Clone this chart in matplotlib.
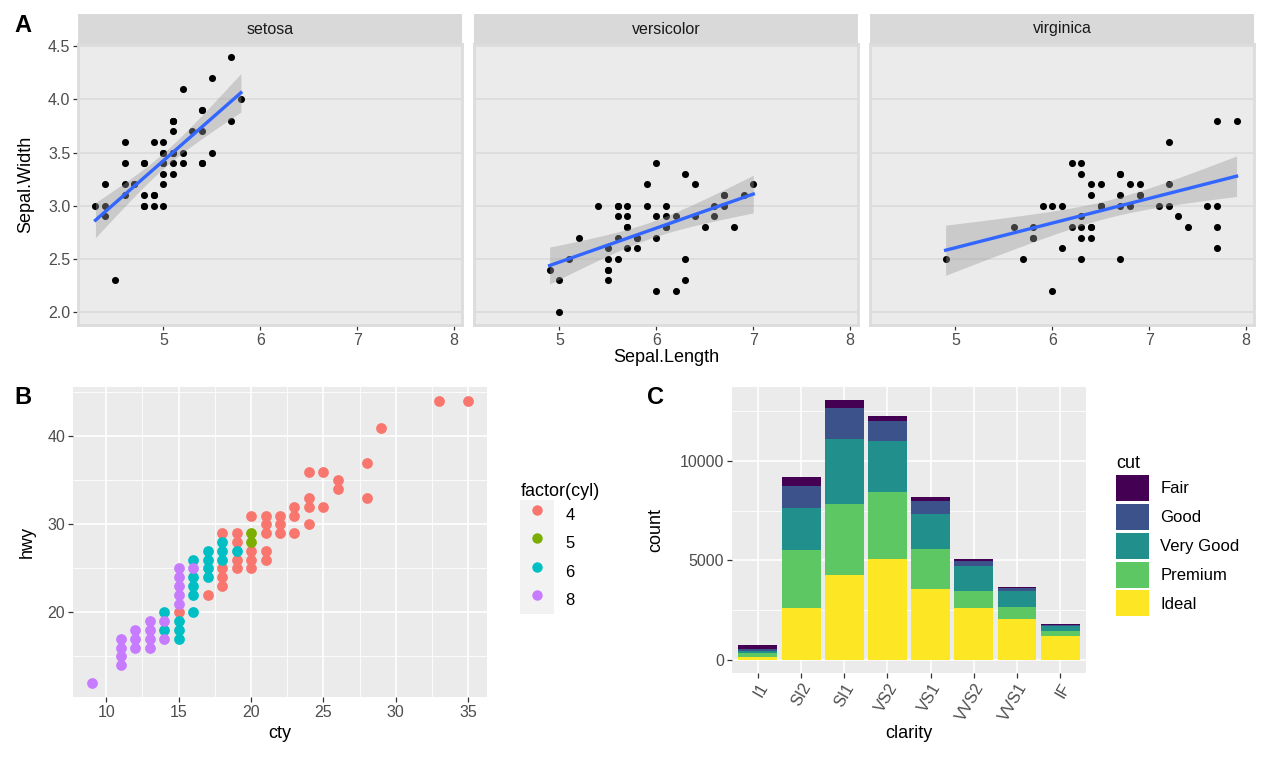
import matplotlib
matplotlib.use("Agg")
import matplotlib.pyplot as plt
from matplotlib.patches import Patch
from matplotlib.lines import Line2D
from matplotlib.legend_handler import HandlerTuple
import numpy as np

plt.rcParams['font.family'] = ['Liberation Sans', 'DejaVu Sans']

# ---- data: iris (Sepal.Length, Sepal.Width) ----
species = ["setosa", "versicolor", "virginica"]
setosa_len = [5.1, 4.9, 4.7, 4.6, 5.0, 5.4, 4.6, 5.0, 4.4, 4.9, 5.4, 4.8, 4.8, 4.3, 5.8, 5.7, 5.4,
              5.1, 5.7, 5.1, 5.4, 5.1, 4.6, 5.1, 4.8, 5.0, 5.0, 5.2, 5.2, 4.7, 4.8, 5.4, 5.2, 5.5,
              4.9, 5.0, 5.5, 4.9, 4.4, 5.1, 5.0, 4.5, 4.4, 5.0, 5.1, 4.8, 5.1, 4.6, 5.3, 5.0]
setosa_wid = [3.5, 3.0, 3.2, 3.1, 3.6, 3.9, 3.4, 3.4, 2.9, 3.1, 3.7, 3.4, 3.0, 3.0, 4.0, 4.4, 3.9,
              3.5, 3.8, 3.8, 3.4, 3.7, 3.6, 3.3, 3.4, 3.0, 3.4, 3.5, 3.4, 3.2, 3.1, 3.4, 4.1, 4.2,
              3.1, 3.2, 3.5, 3.6, 3.0, 3.4, 3.5, 2.3, 3.2, 3.5, 3.8, 3.0, 3.8, 3.2, 3.7, 3.3]
versi_len = [7.0, 6.4, 6.9, 5.5, 6.5, 5.7, 6.3, 4.9, 6.6, 5.2, 5.0, 5.9, 6.0, 6.1, 5.6, 6.7, 5.6,
             5.8, 6.2, 5.6, 5.9, 6.1, 6.3, 6.1, 6.4, 6.6, 6.8, 6.7, 6.0, 5.7, 5.5, 5.5, 5.8, 6.0,
             5.4, 6.0, 6.7, 6.3, 5.6, 5.5, 5.5, 6.1, 5.8, 5.0, 5.6, 5.7, 5.7, 6.2, 5.1, 5.7]
versi_wid = [3.2, 3.2, 3.1, 2.3, 2.8, 2.8, 3.3, 2.4, 2.9, 2.7, 2.0, 3.0, 2.2, 2.9, 2.9, 3.1, 3.0,
             2.7, 2.2, 2.5, 3.2, 2.8, 2.5, 2.8, 2.9, 3.0, 2.8, 3.0, 2.9, 2.6, 2.4, 2.4, 2.7, 2.7,
             3.0, 3.4, 3.1, 2.3, 3.0, 2.5, 2.6, 3.0, 2.6, 2.3, 2.7, 3.0, 2.9, 2.9, 2.5, 2.8]
virg_len = [6.3, 5.8, 7.1, 6.3, 6.5, 7.6, 4.9, 7.3, 6.7, 7.2, 6.5, 6.4, 6.8, 5.7, 5.8, 6.4, 6.5,
            7.7, 7.7, 6.0, 6.9, 5.6, 7.7, 6.3, 6.7, 7.2, 6.2, 6.1, 6.4, 7.2, 7.4, 7.9, 6.4, 6.3,
            6.1, 7.7, 6.3, 6.4, 6.0, 6.9, 6.7, 6.9, 5.8, 6.8, 6.7, 6.7, 6.3, 6.5, 6.2, 5.9]
virg_wid = [3.3, 2.7, 3.0, 2.9, 3.0, 3.0, 2.5, 2.9, 2.5, 3.6, 3.2, 2.7, 3.0, 2.5, 2.8, 3.2, 3.0,
            3.8, 2.6, 2.2, 3.2, 2.8, 2.8, 2.7, 3.3, 3.2, 2.8, 3.0, 2.8, 3.0, 2.8, 3.8, 2.8, 2.8,
            2.6, 3.0, 3.4, 3.1, 3.0, 3.1, 3.1, 3.1, 2.7, 3.2, 3.3, 3.0, 2.5, 3.0, 3.4, 3.0]

# ---- data: mpg (cty, hwy, cyl), distinct points as seen ----
mpg_cty = [15, 17, 18, 18, 18, 18, 19, 19, 19, 19, 20, 20, 20, 20, 21, 21, 21, 21, 21, 22, 22, 22,
           23, 23, 23, 24, 24, 24, 24, 25, 25, 26, 26, 28, 28, 29, 33, 35,
           20, 20,
           14, 14, 15, 15, 15, 16, 16, 16, 16, 16, 17, 17, 17, 17, 18, 18, 18, 19,
           9, 11, 11, 11, 11, 12, 12, 12, 13, 13, 13, 13, 14, 14, 15, 15, 15, 15, 15, 16]
mpg_hwy = [20, 22, 29, 25, 24, 23, 29, 28, 26, 25, 31, 27, 26, 25, 31, 30, 29, 27, 26, 31, 30, 29,
           32, 31, 29, 36, 33, 32, 30, 36, 32, 35, 34, 37, 33, 41, 44, 44,
           29, 28,
           20, 18, 19, 18, 17, 26, 24, 23, 22, 20, 27, 26, 25, 24, 28, 27, 26, 27,
           12, 17, 16, 15, 14, 18, 17, 16, 19, 18, 17, 16, 19, 17, 25, 24, 23, 22, 21, 25]
mpg_cyl = [4] * 38 + [5] * 2 + [6] * 18 + [8] * 20
cyl_levels = [4, 5, 6, 8]
cyl_colors = ["#F8766D", "#7CAE00", "#00BFC4", "#C77CFF"]

# ---- data: diamonds counts by clarity x cut ----
clarity = ["I1", "SI2", "SI1", "VS2", "VS1", "VVS2", "VVS1", "IF"]
cuts = ["Fair", "Good", "Very Good", "Premium", "Ideal"]
n_fair = [210, 466, 408, 261, 170, 69, 17, 9]
n_good = [96, 1081, 1560, 978, 648, 286, 186, 71]
n_vgood = [84, 2100, 3240, 2591, 1775, 1235, 789, 268]
n_premium = [205, 2949, 3575, 3357, 1989, 870, 616, 230]
n_ideal = [146, 2598, 4282, 5071, 3589, 2606, 2047, 1212]
cut_colors = ["#440154", "#3B528B", "#21908C", "#5DC863", "#FDE725"]

W, H = 1266, 760
fig = plt.figure(figsize=(W / 100, H / 100), dpi=100)


def rect(x0, y0, x1, y1):
    return [x0 / W, 1 - y1 / H, (x1 - x0) / W, (y1 - y0) / H]


TICK_FS = 11.5
TITLE_FS = 13
LEG_FS = 12


def style_ticks(ax):
    ax.tick_params(length=3.5, width=0.9, color="#333333", labelcolor="#4D4D4D",
                   labelsize=TICK_FS, pad=2)


# ---------------- panel A ----------------
a_x0 = [78, 474, 870]
a_w = 384
groups = [(setosa_len, setosa_wid), (versi_len, versi_wid), (virg_len, virg_wid)]
for i, (name, (xs, ys)) in enumerate(zip(species, groups)):
    x0 = a_x0[i]
    ax = fig.add_axes(rect(x0, 44, x0 + a_w, 325))
    ax.set_facecolor("#EBEBEB")
    for sp in ax.spines.values():
        sp.set_color("#DCDCDC")
        sp.set_linewidth(2)
    ax.set_xlim(4.12, 8.08)
    ax.set_ylim(1.88, 4.52)
    ax.set_xticks([5, 6, 7, 8])
    ax.set_yticks([2.0, 2.5, 3.0, 3.5, 4.0, 4.5])
    ax.yaxis.grid(True, color="#D9D9D9", linewidth=1.1)
    ax.set_axisbelow(True)
    style_ticks(ax)
    if i > 0:
        ax.tick_params(axis="y", left=False, labelleft=False)
    else:
        ax.set_yticklabels(["2.0", "2.5", "3.0", "3.5", "4.0", "4.5"])

    x = np.array(xs)
    y = np.array(ys)
    ax.scatter(x, y, s=26, color="black", linewidths=0, zorder=2)

    # linear fit with 95% confidence band
    b, a = np.polyfit(x, y, 1)
    n = len(x)
    xm = x.mean()
    resid = y - (a + b * x)
    s = np.sqrt((resid ** 2).sum() / (n - 2))
    sxx = ((x - xm) ** 2).sum()
    grid = np.linspace(x.min(), x.max(), 80)
    fit = a + b * grid
    se = s * np.sqrt(1 / n + (grid - xm) ** 2 / sxx)
    t = 2.0106
    ax.fill_between(grid, fit - t * se, fit + t * se, color="#999999", alpha=0.4,
                    linewidth=0, zorder=3)
    ax.plot(grid, fit, color="#3366FF", linewidth=2.4, zorder=4)

    sax = fig.add_axes(rect(x0, 14, x0 + a_w, 44))
    sax.set_facecolor("#D9D9D9")
    sax.set_xticks([])
    sax.set_yticks([])
    for sp in sax.spines.values():
        sp.set_visible(False)
    sax.text(0.5, 0.5, name, ha="center", va="center", fontsize=11.5, color="#1A1A1A",
             transform=sax.transAxes)

fig.text(26 / W, 1 - 184 / H, "Sepal.Width", rotation=90, ha="center", va="center",
         fontsize=TITLE_FS)
fig.text(666 / W, 1 - 358 / H, "Sepal.Length", ha="center", va="center", fontsize=TITLE_FS)
fig.text(14 / W, 1 - 26 / H, "A", ha="left", va="center", fontsize=17, fontweight="bold")

# ---------------- panel B ----------------
axb = fig.add_axes(rect(73, 387, 487, 697))
axb.set_facecolor("#EBEBEB")
for sp in axb.spines.values():
    sp.set_visible(False)
axb.set_xlim(7.7, 36.3)
axb.set_ylim(10.4, 45.6)
axb.set_xticks([10, 15, 20, 25, 30, 35])
axb.set_xticks([12.5, 17.5, 22.5, 27.5, 32.5], minor=True)
axb.set_yticks([20, 30, 40])
axb.set_yticks([15, 25, 35, 45], minor=True)
axb.grid(True, which="major", color="white", linewidth=1.2)
axb.grid(True, which="minor", color="white", linewidth=0.6)
axb.tick_params(which="minor", length=0)
axb.set_axisbelow(True)
style_ticks(axb)

cty = np.array(mpg_cty)
hwy = np.array(mpg_hwy)
cyl = np.array(mpg_cyl)
handles_b = []
for lev, col in zip(cyl_levels, cyl_colors):
    m = cyl == lev
    axb.scatter(cty[m], hwy[m], s=60, color=col, linewidths=0, zorder=2)
    handles_b.append((Patch(facecolor="#F2F2F2", edgecolor="none"),
                      Line2D([], [], marker="o", linestyle="none", markersize=7.5,
                             markerfacecolor=col, markeredgewidth=0)))

fig.text(27 / W, 1 - 542 / H, "hwy", rotation=90, ha="center", va="center", fontsize=TITLE_FS)
fig.text(280 / W, 1 - 734 / H, "cty", ha="center", va="center", fontsize=TITLE_FS)
fig.text(14 / W, 1 - 398 / H, "B", ha="left", va="center", fontsize=17, fontweight="bold")

fig.legend(handles_b, [str(c) for c in cyl_levels], loc="upper left",
           bbox_to_anchor=(512 / W, 1 - 475 / H), frameon=False, borderpad=0,
           fontsize=LEG_FS, title="factor(cyl)", title_fontsize=TITLE_FS,
           handlelength=2.0, handleheight=2.25, labelspacing=0,
           handletextpad=0.7, alignment="left",
           handler_map={tuple: HandlerTuple(ndivide=1, pad=0)})

# ---------------- panel C ----------------
axc = fig.add_axes(rect(732, 387, 1086, 673))
axc.set_facecolor("#EBEBEB")
for sp in axc.spines.values():
    sp.set_visible(False)
pos = np.arange(len(clarity))
axc.set_xlim(-0.6, len(clarity) - 0.4)
axc.set_ylim(-653, 13718)
axc.set_yticks([0, 5000, 10000])
axc.set_yticks([2500, 7500, 12500], minor=True)
axc.grid(True, which="major", color="white", linewidth=1.2)
axc.grid(True, which="minor", axis="y", color="white", linewidth=0.6)
axc.tick_params(which="minor", length=0)
axc.set_axisbelow(True)
style_ticks(axc)

stack = [n_ideal, n_premium, n_vgood, n_good, n_fair]
stack_cols = cut_colors[::-1]
bottom = np.zeros(len(clarity))
for vals, col in zip(stack, stack_cols):
    axc.bar(pos, vals, width=0.9, bottom=bottom, color=col, linewidth=0, zorder=2)
    bottom += np.array(vals)
axc.set_xticks(pos)
axc.set_xticklabels(clarity, rotation=60, ha="right", va="top", rotation_mode="anchor")

fig.text(656 / W, 1 - 530 / H, "count", rotation=90, ha="center", va="center", fontsize=TITLE_FS)
fig.text(909 / W, 1 - 734 / H, "clarity", ha="center", va="center", fontsize=TITLE_FS)
fig.text(647 / W, 1 - 398 / H, "C", ha="left", va="center", fontsize=17, fontweight="bold")

handles_c = [Patch(facecolor=c, edgecolor="none") for c in cut_colors]
fig.legend(handles_c, cuts, loc="upper left", bbox_to_anchor=(1108 / W, 1 - 447 / H),
           frameon=False, borderpad=0, fontsize=LEG_FS, title="cut",
           title_fontsize=TITLE_FS, handlelength=1.95, handleheight=2.02,
           labelspacing=0.17, handletextpad=0.7, alignment="left")

fig.savefig("out.png", dpi=100)
